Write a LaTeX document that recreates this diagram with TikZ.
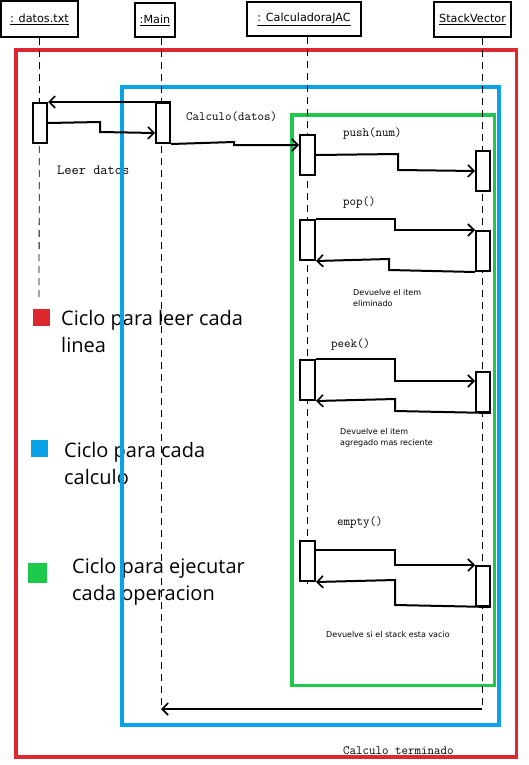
\documentclass[tikz,border=0pt]{standalone}
\usepackage{fontspec}
\setmainfont{DejaVu Sans}
\newfontfamily\legfam{Open Sans}
\usetikzlibrary{arrows.meta}
\definecolor{loopred}{RGB}{222,40,48}
\definecolor{loopblue}{RGB}{10,162,230}
\definecolor{loopgreen}{RGB}{30,200,74}
\begin{document}
\begin{tikzpicture}[x=1pt,y=-1pt,
 hdr/.style={draw, line width=2.3pt, inner sep=0, font=\fontsize{11.2}{13}\selectfont},
 act/.style={draw, line width=2pt, fill=white, inner sep=0, minimum width=14pt, minimum height=40pt, anchor=north west},
 life/.style={line width=0.8pt, dash pattern=on 7pt off 5pt},
 msg/.style={line width=2pt, -{Straight Barb[length=6pt,width=12pt,line width=1.6pt]}},
 mlabel/.style={inner sep=0, anchor=west, font=\ttfamily\fontsize{12.6}{14}\selectfont},
 note/.style={inner sep=0, anchor=west, align=left, font=\fontsize{8}{11}\selectfont},
 legtext/.style={inner sep=0, anchor=west, align=left, font=\legfam\fontsize{20}{27}\selectfont},
 legsq/.style={inner sep=0, minimum size=17pt},
 loop/.style={line width=3.6pt},
]
\useasboundingbox[fill=white] (0,0) rectangle (528,765);

% legend and labels (under the loop frames)
\node[legsq, fill=loopred] (sqR) at (41.5,317.5) {};
\node[legsq, fill=loopblue] (sqB) at (39,448.5) {};
\node[legsq, fill=loopgreen, minimum height=20pt, minimum width=19pt] (sqG) at (37.5,572.5) {};
\node[legtext] (tR) at (61,331.5) {Ciclo para leer cada\\linea};
\node[legtext] (tB) at (64,463.5) {Ciclo para cada\\calculo};
\node[legtext] (tG) at (72,581.5) {Ciclo para ejecutar\\cada operacion};

\node[mlabel] (lCalc) at (186,117) {Calculo(datos)};
\node[mlabel, font=\ttfamily\fontsize{14}{15}\selectfont] (lLeer) at (57,170) {Leer datos};
\node[mlabel] (lPush) at (343,134) {push(num)};
\node[mlabel] (lPop) at (343,203) {pop()};
\node[note, font=\fontsize{8}{10.5}\selectfont] (nPop) at (353,298) {Devuelve el item\\eliminado};
\node[mlabel] (lPeek) at (331,345) {peek()};
\node[note] (nPeek) at (340,438) {Devuelve el item\\agregado mas reciente};
\node[mlabel] (lEmpty) at (337,523) {empty()};
\node[note] (nEmpty) at (326,635) {Devuelve si el stack esta vacio};
\node[mlabel] (lFin) at (343,751) {Calculo terminado};

% loop frames
\draw[loop, loopred] (16,50) rectangle (516.5,757);
\draw[loop, loopblue] (122,87) rectangle (499,725);
\draw[loop, loopgreen] (292,115) rectangle (494.5,685.5);

% headers
\node[hdr, minimum width=77pt, minimum height=36pt] (hD) at (39.5,19) {\underline{: datos.txt}};
\node[hdr, minimum width=40pt, minimum height=34pt] (hM) at (155,20) {\underline{:Main}};
\node[hdr, minimum width=114pt, minimum height=34pt] (hC) at (304,19) {\underline{: CalculadoraJAC}};
\node[hdr, minimum width=77pt, minimum height=35pt] (hS) at (472.5,19.5) {\underline{StackVector}};

% lifelines
\coordinate (dEnd) at (39,302);
\coordinate (mEnd) at (161,709);
\coordinate (cEnd) at (307,588);
\coordinate (sEnd) at (482,709);
\draw[life] (hD.south) -- (dEnd);
\draw[life] (hM.south -| mEnd) -- (mEnd);
\draw[life] (hC.south -| cEnd) -- (cEnd);
\draw[life] (hS.south -| sEnd) -- (sEnd);

% activations
\node[act] (dA) at (32,102) {};
\node[act] (mA) at (155,102) {};
\node[act, minimum width=15pt] (c1) at (299,134) {};
\node[act] (s1) at (475,150) {};
\node[act, minimum width=15pt] (c2) at (299,219) {};
\node[act] (s2) at (475,230) {};
\node[act, minimum width=15pt] (c3) at (299,359) {};
\node[act] (s3) at (475,371) {};
\node[act, minimum width=15pt] (c4) at (299,540) {};
\node[act] (s4) at (475,565) {};

% messages
\draw[msg] (mA.north east) -- (dA.north east);
\draw[msg] (dA.east) -- (100,122) -- (100,132) -- ([yshift=-10pt]mA.west);
\draw[msg] (mA.south east) -- (234,142) -- (234,145) -- ([yshift=-11pt]c1.north west);
\draw[msg] (c1.east) -- (398,154) -- (398,170) -- (s1.west);
\draw[msg] (c2.north east) -- (395,219) -- (395,230) -- (s2.north west);
\draw[msg] (s2.south west) -- (389,270) -- (389,259) -- (c2.south east);
\draw[msg] (c3.north east) -- (395,359) -- (395,381) -- ([yshift=-10pt]s3.north west);
\draw[msg] (s3.south east) -- (395,411) -- (395,399) -- (c3.south east);
\draw[msg] ([yshift=-10pt]c4.north east) -- (395,550) -- (395,565) -- (s4.north west);
\draw[msg] (s4.south east) -- (395,605) -- (395,580) -- (c4.south east);
\draw[msg] (sEnd) -- (mEnd);
\end{tikzpicture}
\end{document}
